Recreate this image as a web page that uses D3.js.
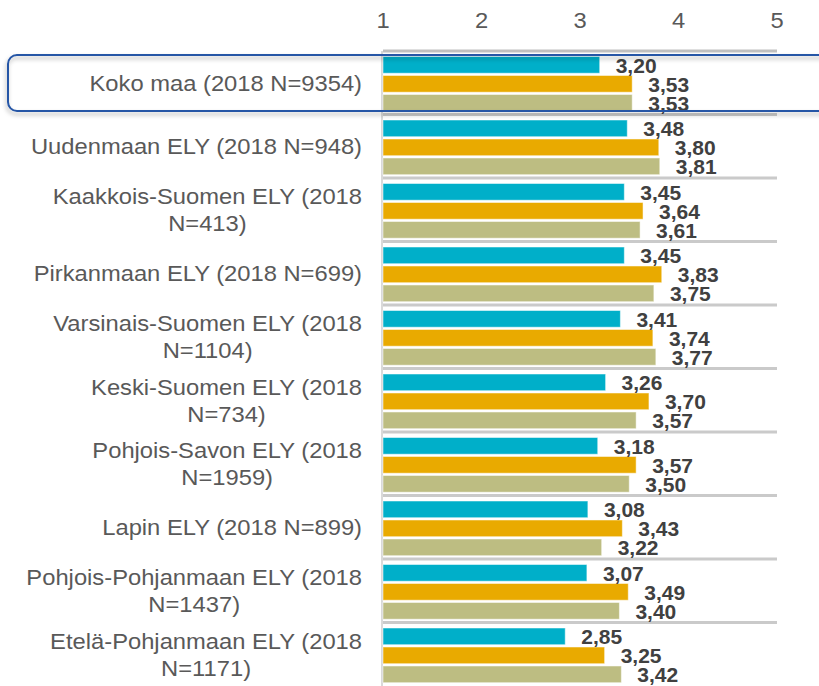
<!DOCTYPE html>
<html>
<head>
<meta charset="utf-8">
<script src="https://cdn.jsdelivr.net/npm/d3@7"></script>
<style>
  body { margin: 0; background: #fff; }
  svg { display: block; font-family: "Liberation Sans", Arial, sans-serif; }
</style>
</head>
<body>
<div id="chart"></div>
<script>
// category labels (line breaks as in the original)
var categories = [
    "Koko maa (2018 N=9354)",
    "Uudenmaan ELY (2018 N=948)",
    "Kaakkois-Suomen ELY (2018\nN=413)",
    "Pirkanmaan ELY (2018 N=699)",
    "Varsinais-Suomen ELY (2018\nN=1104)",
    "Keski-Suomen ELY (2018\nN=734)",
    "Pohjois-Savon ELY (2018\nN=1959)",
    "Lapin ELY (2018 N=899)",
    "Pohjois-Pohjanmaan ELY (2018\nN=1437)",
    "Etelä-Pohjanmaan ELY (2018\nN=1171)"
];
var seriesTeal   = [3.20, 3.48, 3.45, 3.45, 3.41, 3.26, 3.18, 3.08, 3.07, 2.85];
var seriesOrange = [3.53, 3.80, 3.64, 3.83, 3.74, 3.70, 3.57, 3.43, 3.49, 3.25];
var seriesOlive  = [3.53, 3.81, 3.61, 3.75, 3.77, 3.57, 3.50, 3.22, 3.40, 3.42];
var seriesKeys = ["teal", "orange", "olive"];
var tickValues = [1, 2, 3, 4, 5];

var colors = {teal: "#00afc9", orange: "#e9aa00", olive: "#bdbd82"};
var W = 819, H = 686;
var stretch = 1.08; // labels in the picture are a bit wider than plain Arial

var data = categories.map(function(c, i) {
    return {cat: c, teal: seriesTeal[i], orange: seriesOrange[i], olive: seriesOlive[i]};
});

var x = d3.scaleLinear().domain([1, 5]).range([383, 777]);
var y = d3.scaleBand().domain(categories).range([51, 686]).paddingInner(0).paddingOuter(0);
var yInner = d3.scaleBand().domain(seriesKeys).range([5.5, 60.2]).paddingInner(0.12);

var svg = d3.select("#chart").append("svg")
    .attr("width", W)
    .attr("height", H);

var defs = svg.append("defs");
defs.append("filter").attr("id", "shadow")
    .attr("x", "-5%").attr("y", "-30%").attr("width", "110%").attr("height", "160%")
  .append("feDropShadow")
    .attr("dx", -1).attr("dy", 3).attr("stdDeviation", 2)
    .attr("flood-color", "#000").attr("flood-opacity", 0.3);

// top axis tick labels
svg.append("g").selectAll("text")
    .data(tickValues)
    .enter().append("text")
    .attr("transform", function(d) { return "translate(" + x(d) + ",28) scale(" + stretch + ",1)"; })
    .attr("text-anchor", "middle")
    .attr("font-size", 22)
    .attr("fill", "#595959")
    .text(function(d) { return d; });

// vertical axis line
svg.append("line")
    .attr("x1", 382).attr("x2", 382)
    .attr("y1", 51).attr("y2", H)
    .attr("stroke", "#d9d9d9").attr("stroke-width", 2);

// group separators (first one is the top axis line)
svg.append("g").selectAll("line")
    .data(categories)
    .enter().append("line")
    .attr("x1", x(1)).attr("x2", x(5))
    .attr("y1", function(d) { return y(d); })
    .attr("y2", function(d) { return y(d); })
    .attr("stroke", function(d, i) { return i == 0 ? "#bfbfbf" : "#cacaca"; })
    .attr("stroke-width", 3);

var groups = svg.append("g").selectAll("g")
    .data(data)
    .enter().append("g")
    .attr("transform", function(d) { return "translate(0," + y(d.cat) + ")"; });

// bars
groups.selectAll("rect")
    .data(function(d) { return seriesKeys.map(function(k) { return {key: k, value: d[k]}; }); })
    .enter().append("rect")
    .attr("x", x(1))
    .attr("y", function(d) { return yInner(d.key); })
    .attr("width", function(d) { return x(d.value) - x(1); })
    .attr("height", yInner.bandwidth())
    .attr("fill", function(d) { return colors[d.key]; })
    .attr("stroke", "#fff").attr("stroke-opacity", 0.5).attr("stroke-width", 1);

// value labels
groups.selectAll("text.val")
    .data(function(d) { return seriesKeys.map(function(k) { return {key: k, value: d[k]}; }); })
    .enter().append("text")
    .attr("class", "val")
    .attr("x", function(d) { return x(d.value) + 16; })
    .attr("y", function(d) { return yInner(d.key) + yInner.bandwidth() - 0.5; })
    .attr("font-size", 21)
    .attr("font-weight", "bold")
    .attr("fill", "#404040")
    .text(function(d) { return d.value.toFixed(2).replace(".", ","); });

// category labels, wrapped lines centred on the widest line, right edge at 362
groups.each(function(d) {
    var lines = d.cat.split("\n");
    var cy = y.bandwidth() / 2;
    var lg = d3.select(this).append("g")
        .attr("transform", "translate(362," + cy + ") scale(" + stretch + ",1)");
    var texts = lg.selectAll("text")
        .data(lines)
        .enter().append("text")
        .attr("font-size", 22)
        .attr("fill", "#595959")
        .attr("text-anchor", "middle")
        .attr("y", function(t, i) { return (i - (lines.length - 1) / 2) * 27 + 8; })
        .text(function(t) { return t; });
    var maxW = 0;
    texts.each(function() { maxW = Math.max(maxW, this.getComputedTextLength()); });
    texts.attr("x", -maxW / 2);
});

// highlight box around the first row
svg.append("rect")
    .attr("x", 8).attr("y", 55)
    .attr("width", 840).attr("height", 56)
    .attr("rx", 9)
    .attr("fill", "none")
    .attr("stroke", "#2656a6")
    .attr("stroke-width", 2)
    .attr("filter", "url(#shadow)");
</script>
</body>
</html>
